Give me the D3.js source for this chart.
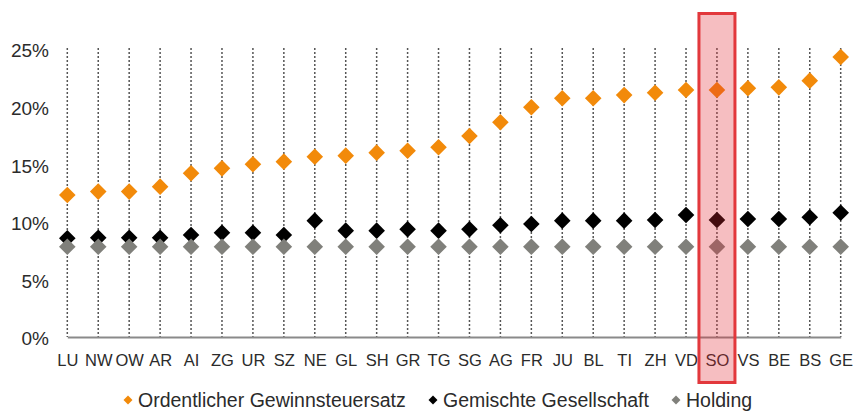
<!DOCTYPE html>
<html lang="de">
<head>
    <meta charset="UTF-8">
    <title>Gewinnsteuersätze Kantone</title>
    <script src="https://cdn.jsdelivr.net/npm/d3@7"></script>
    <style>
        html, body {
            margin: 0;
            padding: 0;
            background: #fff;
        }

        svg text {
            font-family: "Liberation Sans", Arial, Helvetica, sans-serif;
            fill: #2b2b2b;
        }
    </style>
</head>
<body>
<svg id="chart" width="853" height="412"></svg>
<script>
    // Kantone, sortiert nach ordentlichem Satz
    var cantons = ['LU', 'NW', 'OW', 'AR', 'AI', 'ZG', 'UR', 'SZ', 'NE', 'GL', 'SH', 'GR', 'TG',
        'SG', 'AG', 'FR', 'JU', 'BL', 'TI', 'ZH', 'VD', 'SO', 'VS', 'BE', 'BS', 'GE']

    var ordentlich = [12.33, 12.62, 12.62, 13.05, 14.21, 14.64, 14.99, 15.22, 15.65, 15.74, 16.0, 16.17, 16.47,
        17.45, 18.64, 19.94, 20.72, 20.72, 21.0, 21.2, 21.44, 21.44, 21.59, 21.67, 22.25, 24.3]

    var gemischt = [8.57, 8.62, 8.62, 8.62, 8.85, 9.05, 9.05, 8.85, 10.1, 9.23, 9.23, 9.35, 9.23,
        9.35, 9.7, 9.81, 10.1, 10.1, 10.1, 10.16, 10.59, 10.16, 10.24, 10.24, 10.39, 10.79]

    var holding = [7.83, 7.83, 7.83, 7.83, 7.83, 7.83, 7.83, 7.83, 7.83, 7.83, 7.83, 7.83, 7.83,
        7.83, 7.83, 7.83, 7.83, 7.83, 7.83, 7.83, 7.83, 7.83, 7.83, 7.83, 7.83, 7.83]

    var yTicks = [0, 5, 10, 15, 20, 25]
    var seriesNames = ['Ordentlicher Gewinnsteuersatz', 'Gemischte Gesellschaft', 'Holding']
    var highlighted = 'SO'

    var COLORS = ['#f28a0a', '#000000', '#80807b']

    var svg = d3.select('#chart')

    var x = d3.scalePoint()
        .domain(cantons)
        .range([67.3, 840.7])

    var y = d3.scaleLinear()
        .domain([0, 25])
        .range([337, 49])

    // gestrichelte Senkrechte pro Kanton
    svg.append('g')
        .selectAll('line')
        .data(cantons)
        .enter().append('line')
        .attr('x1', function (d) { return x(d) })
        .attr('x2', function (d) { return x(d) })
        .attr('y1', 48)
        .attr('y2', y(0))
        .attr('stroke', '#555')
        .attr('stroke-width', 1.5)
        .attr('stroke-dasharray', '2,2')

    // x-Achse
    var xAxis = svg.append('g')
        .attr('transform', 'translate(0,' + y(0) + ')')
        .call(d3.axisBottom(x).tickSize(0).tickSizeOuter(0).tickPadding(0))
    xAxis.select('.domain').attr('stroke', '#8a8a8a').attr('stroke-width', 1.8)
    xAxis.selectAll('text')
        .attr('y', 29)
        .attr('dy', 0)
        .style('font-size', '16.5px')
        .attr('fill', '#2b2b2b')

    // y-Achse
    var yAxis = svg.append('g')
        .attr('transform', 'translate(49,0)')
        .call(d3.axisLeft(y).tickValues(yTicks).tickSize(0).tickPadding(0)
            .tickFormat(function (d) { return d + '%' }))
    yAxis.select('.domain').remove()
    yAxis.selectAll('text')
        .attr('dy', '0.42em')
        .style('font-size', '19px')
        .attr('fill', '#2b2b2b')

    var diamond = d3.symbol().type(d3.symbolSquare).size(138)

    function drawSeries (values, color) {
        svg.append('g')
            .selectAll('path')
            .data(values)
            .enter().append('path')
            .attr('d', diamond)
            .attr('fill', color)
            .attr('transform', function (d, i) {
                return 'translate(' + x(cantons[i]) + ',' + y(d) + ') rotate(45)'
            })
    }

    drawSeries(ordentlich, COLORS[0])
    drawSeries(gemischt, COLORS[1])
    drawSeries(holding, COLORS[2])

    // Markierung SO
    svg.append('rect')
        .attr('x', x(highlighted) - 18)
        .attr('y', 13.5)
        .attr('width', 36)
        .attr('height', 369)
        .attr('fill', 'rgba(225,40,50,0.3)')
        .attr('stroke', '#e2383c')
        .attr('stroke-width', 3)

    // Legende
    var legendX = [128, 433, 676]
    var smallDiamond = d3.symbol().type(d3.symbolSquare).size(40)
    var legend = svg.append('g')
        .selectAll('g')
        .data(seriesNames)
        .enter().append('g')
        .attr('transform', function (d, i) { return 'translate(' + legendX[i] + ',400)' })

    legend.append('path')
        .attr('d', smallDiamond)
        .attr('fill', function (d, i) { return COLORS[i] })
        .attr('transform', 'rotate(45)')

    legend.append('text')
        .attr('x', 10)
        .attr('y', 6.5)
        .style('font-size', '19.5px')
        .text(function (d) { return d })
</script>
</body>
</html>
